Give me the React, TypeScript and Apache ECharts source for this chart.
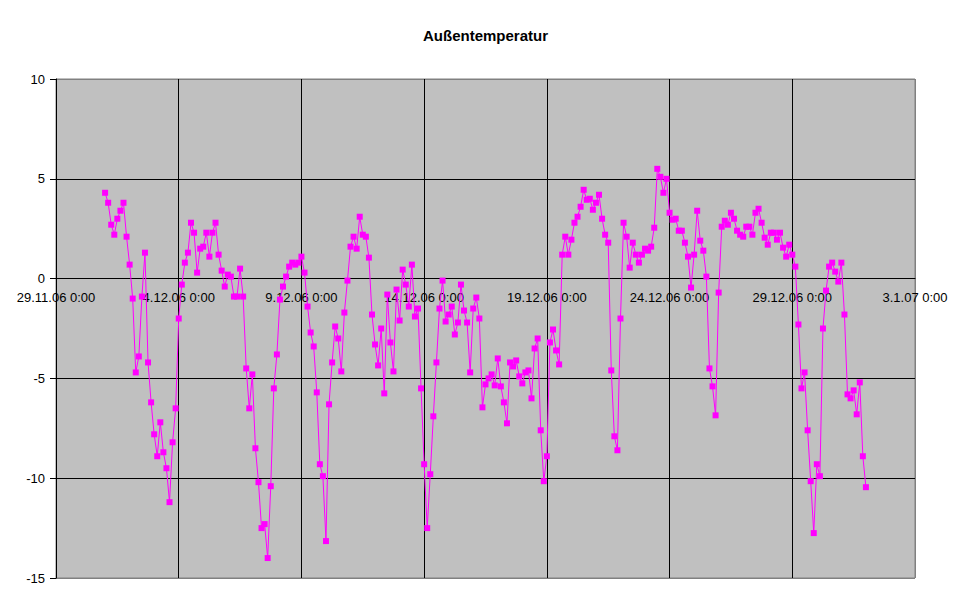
import React, { useEffect, useRef } from 'react';
import * as echarts from 'echarts';

// x-axis labels, one every 5 days starting 29.11.06 0:00
const tickLabels = [
  '29.11.06 0:00',
  '4.12.06 0:00',
  '9.12.06 0:00',
  '14.12.06 0:00',
  '19.12.06 0:00',
  '24.12.06 0:00',
  '29.12.06 0:00',
  '3.1.07 0:00',
];

// readings start 1.12.06 0:00 (day 2 after 29.11.06), one every 3 hours
const firstDay = 2;
const stepDays = 0.125;

// Außentemperatur in °C
const temperatures = [
  4.3, 3.8, 2.7, 2.2, 3.0, 3.4, 3.8, 2.1, 0.7, -1.0,
  -4.7, -3.9, -0.9, 1.3, -4.2, -6.2, -7.8, -8.9, -7.2, -8.7,
  -9.5, -11.2, -8.2, -6.5, -2.0, -0.3, 0.8, 1.3, 2.8, 2.3,
  0.3, 1.5, 1.6, 2.3, 1.1, 2.3, 2.8, 1.2, 0.4, -0.4,
  0.2, 0.1, -0.9, -0.9, 0.5, -0.9, -4.5, -6.5, -4.8, -8.5,
  -10.2, -12.5, -12.3, -14.0, -10.4, -5.5, -3.8, -1.05, -0.4, 0.1,
  0.6, 0.8, 0.7, 0.8, 1.1, 0.3, -1.4, -2.7, -3.4, -5.7,
  -9.3, -9.9, -13.15, -6.3, -4.2, -2.4, -3.0, -4.65, -1.7, -0.1,
  1.6, 2.1, 1.5, 3.1, 2.2, 2.1, 1.05, -1.8, -3.3, -4.35,
  -2.5, -5.75, -0.8, -3.2, -4.65, -0.55, -2.1, 0.45, -0.3, -1.4,
  0.7, -1.9, -1.5, -5.5, -9.3, -12.5, -9.8, -6.9, -4.2, -1.5,
  -0.1, -2.15, -1.8, -1.4, -2.8, -2.2, -0.3, -1.6, -2.2, -4.7,
  -1.5, -0.95, -2.0, -6.45, -5.3, -5.0, -4.8, -5.35, -4.0, -5.4,
  -6.2, -7.25, -4.2, -4.4, -4.1, -4.9, -5.25, -4.7, -4.6, -6.0,
  -3.5, -3.0, -7.6, -10.15, -8.9, -3.2, -2.55, -3.6, -4.3, 1.2,
  2.1, 1.2, 1.95, 2.8, 3.1, 3.6, 4.45, 3.95, 4.0, 3.45,
  3.8, 4.2, 3.0, 2.2, 1.8, -4.6, -7.9, -8.6, -2.0, 2.8,
  2.1, 0.55, 1.8, 1.2, 0.8, 1.2, 1.5, 1.4, 1.6, 2.55,
  5.5, 5.1, 4.3, 5.0, 3.3, 2.95, 3.0, 2.4, 2.4, 1.8,
  1.1, -0.45, 1.2, 3.4, 1.9, 1.4, 0.1, -4.5, -5.4, -6.85,
  -0.7, 2.6, 2.9, 2.7, 3.3, 3.0, 2.4, 2.2, 2.1, 2.6,
  2.6, 2.2, 3.3, 3.5, 2.8, 2.05, 1.7, 2.3, 2.3, 1.95,
  2.3, 1.55, 1.1, 1.7, 1.2, 0.6, -2.3, -5.5, -4.7, -7.6,
  -10.15, -12.75, -9.3, -9.9, -2.5, -0.6, 0.6, 0.8, 0.35, -0.15,
  0.8, -1.8, -5.8, -6.0, -5.6, -6.8, -5.2, -8.9, -10.45,
];

const App: React.FC = () => {
  const chartRef = useRef<HTMLDivElement>(null);

  useEffect(() => {
    if (!chartRef.current) return;
    const chart = echarts.init(chartRef.current, undefined, { renderer: 'svg' });

    const seriesData = temperatures.map((t, i) => [firstDay + i * stepDays, t]);

    // the date axis crosses the value axis at 0
    const plotTop = 79;
    const plotHeight = 499;
    const zeroOffset = -(plotHeight * 15) / 25;

    const option = {
      animation: false,
      backgroundColor: '#FFFFFF',
      textStyle: { fontFamily: 'Liberation Sans, Arial, sans-serif' },
      title: {
        text: 'Außentemperatur',
        left: 'center',
        top: 23,
        textStyle: {
          fontSize: 15,
          fontWeight: 'bold',
          color: '#000000',
          fontFamily: 'Liberation Sans, Arial, sans-serif',
        },
      },
      grid: {
        left: 56,
        right: 56,
        top: plotTop,
        height: plotHeight,
        show: true,
        backgroundColor: '#C0C0C0',
        borderColor: '#808080',
        borderWidth: 1,
      },
      xAxis: {
        type: 'value',
        min: 0,
        max: 35,
        interval: 5,
        position: 'bottom',
        offset: zeroOffset,
        axisLine: { onZero: false, lineStyle: { color: '#000000', width: 1 } },
        axisTick: { show: false },
        axisLabel: {
          color: '#000000',
          fontSize: 13,
          margin: 12,
          showMinLabel: true,
          showMaxLabel: true,
          hideOverlap: false,
          formatter: (v: number) => tickLabels[Math.round(v / 5)] ?? '',
        },
        splitLine: {
          show: true,
          lineStyle: {
            color: ['#000000', '#000000', '#000000', '#000000', '#000000', '#000000', '#000000', '#808080'],
            width: 1,
          },
        },
      },
      yAxis: {
        type: 'value',
        min: -15,
        max: 10,
        interval: 5,
        axisLine: { show: true, lineStyle: { color: '#000000', width: 1 } },
        axisTick: { show: true, inside: false, length: 6, lineStyle: { color: '#000000' } },
        axisLabel: { color: '#000000', fontSize: 13, margin: 11 },
        splitLine: {
          show: true,
          lineStyle: {
            color: ['#808080', '#000000', '#000000', '#000000', '#000000', '#808080'],
            width: 1,
          },
        },
      },
      series: [
        {
          name: 'Außentemperatur',
          type: 'line',
          data: seriesData,
          symbol: 'rect',
          symbolSize: 6,
          showAllSymbol: true,
          lineStyle: { color: '#FF00FF', width: 1 },
          itemStyle: { color: '#FF00FF' },
        },
      ],
    };

    chart.setOption(option);
    return () => {
      chart.dispose();
    };
  }, []);

  return (
    <div
      ref={chartRef}
      style={{ position: 'fixed', left: 0, top: 0, width: '971px', height: '604px' }}
    ></div>
  );
};

export default App;
